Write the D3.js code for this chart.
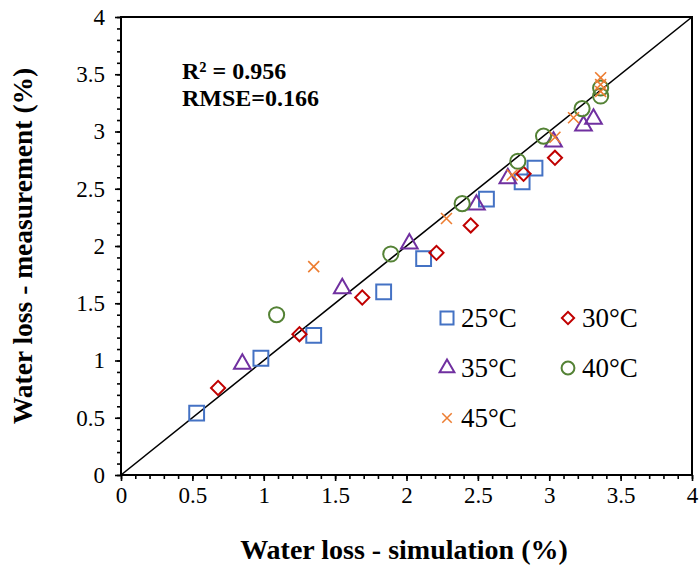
<!DOCTYPE html>
<html><head><meta charset="utf-8">
<script src="https://cdn.jsdelivr.net/npm/d3@7"></script>
<style>body{margin:0;background:#fff}svg text{font-family:"Liberation Serif","Times New Roman",Times,serif !important}</style>
</head><body><svg id="c" width="699" height="567"></svg>
<script>
const seriesNames = ["25°C","30°C","35°C","40°C","45°C"];
const sim25 = [0.53,0.98,1.35,1.84,2.12,2.56,2.81,2.90];
const meas25 = [0.54,1.02,1.22,1.60,1.89,2.41,2.56,2.68];
const sim30 = [0.68,1.25,1.69,2.21,2.45,2.82,3.04];
const meas30 = [0.76,1.23,1.55,1.94,2.18,2.63,2.77];
const sim35 = [0.85,1.55,2.02,2.49,2.71,3.03,3.24,3.31];
const meas35 = [0.97,1.63,2.02,2.36,2.59,2.91,3.05,3.11];
const sim40 = [1.09,1.89,2.39,2.78,2.96,3.23,3.36,3.36];
const meas40 = [1.40,1.93,2.37,2.74,2.96,3.20,3.38,3.31];
const sim45 = [1.35,2.28,2.74,3.04,3.17,3.36,3.36,3.36];
const meas45 = [1.82,2.24,2.62,2.95,3.12,3.47,3.41,3.35];
const majorTicks = [0,0.5,1,1.5,2,2.5,3,3.5,4];
const tickLabels = ["0","0.5","1","1.5","2","2.5","3","3.5","4"];
const annotation = ["R² = 0.956","RMSE=0.166"];
const xTitle = "Water loss - simulation (%)";
const yTitle = "Water loss - measurement (%)";

const FONT = "'Liberation Serif','Times New Roman',Times,serif";
const colors = ["#4472C4","#C00000","#7030A0","#548235","#ED7D31"];
const shapes = [d3.symbolSquare, d3.symbolSquare, d3.symbolTriangle, d3.symbolCircle, d3.symbolX];
const rots = [0,45,0,0,0];
const sizes = [220, 100, 120, 180, 80];
const legSizes = [170, 75, 95, 130, 60];
const seriesData = [[sim25,meas25],[sim30,meas30],[sim35,meas35],[sim40,meas40],[sim45,meas45]];

const svg = d3.select("#c");
const L=121, R=692, T=17, B=475;
const x = d3.scaleLinear().domain([0,4]).range([L,R]);
const y = d3.scaleLinear().domain([0,4]).range([B,T]);
const minor = d3.range(0,41).map(i=>i/10);

const gx = svg.append("g").attr("transform",`translate(0,${B})`);
gx.call(d3.axisBottom(x).tickValues(minor).tickSize(4).tickFormat(""));
const gxM = svg.append("g").attr("transform",`translate(0,${B})`);
gxM.call(d3.axisBottom(x).tickValues(majorTicks).tickSize(6).tickPadding(5).tickFormat((d,i)=>tickLabels[i]));
const gy = svg.append("g").attr("transform",`translate(${L},0)`);
gy.call(d3.axisLeft(y).tickValues(minor).tickSize(4).tickFormat(""));
const gyM = svg.append("g").attr("transform",`translate(${L},0)`);
gyM.call(d3.axisLeft(y).tickValues(majorTicks).tickSize(6).tickPadding(10).tickFormat((d,i)=>tickLabels[i]));
svg.selectAll("g").attr("font-family",FONT);
svg.selectAll(".domain").remove();
svg.selectAll(".tick line").attr("stroke","#000").attr("stroke-width",1.6);
svg.selectAll(".tick text").attr("font-size",23).attr("fill","#000");
gxM.selectAll(".tick text").attr("dy","0.75em");

svg.append("rect").attr("x",L).attr("y",T).attr("width",R-L).attr("height",B-T)
  .attr("fill","none").attr("stroke","#000").attr("stroke-width",2);
svg.append("line").attr("x1",x(0)).attr("y1",y(0)).attr("x2",x(4)).attr("y2",y(4))
  .attr("stroke","#000").attr("stroke-width",1.6);

seriesData.forEach((s,k)=>{
  const pts = s[0].map((v,i)=>[v,s[1][i]]);
  svg.append("g").selectAll("path").data(pts).join("path")
    .attr("transform",d=>`translate(${x(d[0])},${y(d[1])}) rotate(${rots[k]})`)
    .attr("d",d3.symbol().type(shapes[k]).size(sizes[k]))
    .attr("fill","none").attr("stroke",colors[k]).attr("stroke-width",k===4?1.6:2);
});

const legPos = [[447,318],[568,318],[447,368],[568,368],[447,418]];
seriesNames.forEach((n,k)=>{
  const g = svg.append("g").attr("transform",`translate(${legPos[k][0]},${legPos[k][1]})`);
  g.append("path").attr("transform",`rotate(${rots[k]})`).attr("d",d3.symbol().type(shapes[k]).size(legSizes[k]))
    .attr("fill","none").attr("stroke",colors[k]).attr("stroke-width",k===4?1.5:2);
  g.append("text").attr("x",14).attr("y",0).attr("dy","0.35em").attr("font-size",27)
    .attr("font-family",FONT).text(n);
});

annotation.forEach((t,i)=>{
  svg.append("text").attr("x",182).attr("y",79+i*27).attr("font-size",24)
    .attr("font-family",FONT).attr("font-weight","bold").text(t);
});

svg.append("text").attr("x",404).attr("y",559).attr("text-anchor","middle")
  .attr("font-family",FONT).attr("font-size",28).attr("font-weight","bold").text(xTitle);
svg.append("text").attr("transform",`translate(32,${(T+B)/2}) rotate(-90)`).attr("text-anchor","middle")
  .attr("font-family",FONT).attr("font-size",27.5).attr("font-weight","bold").text(yTitle);
</script></body></html>
